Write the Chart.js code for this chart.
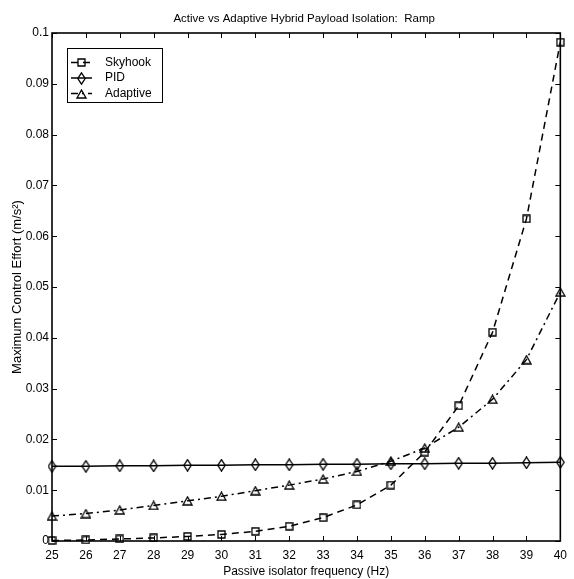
<!DOCTYPE html>
<html>
<head>
<meta charset="utf-8">
<title>Active vs Adaptive Hybrid Payload Isolation: Ramp</title>
<script src="https://cdn.jsdelivr.net/npm/chart.js@4.4.1/dist/chart.umd.min.js"></script>
<style>
  html, body { margin: 0; padding: 0; background: #fff; }
  #wrap { width: 574px; height: 579px; }
</style>
</head>
<body>
<div id="wrap"><canvas id="c" width="574" height="579"></canvas></div>
<script>
// Passive isolator frequency (Hz)
const frequencies = [25, 26, 27, 28, 29, 30, 31, 32, 33, 34, 35, 36, 37, 38, 39, 40];

// Maximum control effort (m/s^2) for each controller
const skyhookEffort  = [0.0001, 0.0002, 0.0004, 0.0006, 0.0009, 0.0013, 0.0019, 0.0029,
                        0.0046, 0.0071, 0.0110, 0.0175, 0.0266, 0.0411, 0.0634, 0.0982];
const pidEffort      = [0.0147, 0.0147, 0.0148, 0.0148, 0.0149, 0.0149, 0.0150, 0.0150,
                        0.0151, 0.0151, 0.0152, 0.0152, 0.0153, 0.0153, 0.0154, 0.0155];
const adaptiveEffort = [0.0049, 0.0054, 0.0061, 0.0070, 0.0079, 0.0088, 0.0099, 0.0110,
                        0.0122, 0.0137, 0.0157, 0.0183, 0.0224, 0.0279, 0.0357, 0.0490];

const seriesNames = ['Skyhook', 'PID', 'Adaptive'];

const chartTitle = 'Active vs Adaptive Hybrid Payload Isolation:  Ramp';
const xTitle = 'Passive isolator frequency (Hz)';
const yTitle = 'Maximum Control Effort (m/s\u00B2)';

const FONT = "'Liberation Sans', Arial, Helvetica, sans-serif";

// Open (unfilled) marker glyphs drawn once on small canvases
function makeMarker(kind) {
  let w, h;
  if (kind === 'diamond') { w = 9; h = 13; }
  else if (kind === 'triangle') { w = 11; h = 10; }
  else { w = 9; h = 9; }
  const c = document.createElement('canvas');
  c.width = w; c.height = h;
  const g = c.getContext('2d');
  g.strokeStyle = '#000';
  g.lineWidth = 1.3;
  g.beginPath();
  if (kind === 'square') {
    g.rect(1, 1, w - 2, h - 2);
  } else if (kind === 'diamond') {
    g.moveTo(w / 2, 0.8);
    g.lineTo(w - 0.8, h / 2);
    g.lineTo(w / 2, h - 0.8);
    g.lineTo(0.8, h / 2);
    g.closePath();
  } else {
    g.moveTo(w / 2, 1);
    g.lineTo(w - 1, h - 1);
    g.lineTo(1, h - 1);
    g.closePath();
  }
  g.stroke();
  return c;
}

const markers = {
  square: makeMarker('square'),
  diamond: makeMarker('diamond'),
  triangle: makeMarker('triangle')
};

const toPoints = vals => frequencies.map((f, i) => ({ x: f, y: vals[i] }));

const datasets = [
  { label: seriesNames[0], data: toPoints(skyhookEffort), borderDash: [7, 5], pointStyle: markers.square },
  { label: seriesNames[1], data: toPoints(pidEffort), borderDash: [], pointStyle: markers.diamond },
  { label: seriesNames[2], data: toPoints(adaptiveEffort), borderDash: [7, 4, 2, 4], pointStyle: markers.triangle }
].map(d => Object.assign({
  borderColor: '#000',
  backgroundColor: 'rgba(0,0,0,0)',
  borderWidth: 1.5,
  pointRadius: 4,
  tension: 0,
  fill: false,
  clip: false
}, d));

// Boxed axes with inward tick marks on all four sides, title and legend box
const framePlugin = {
  id: 'frame',
  afterDraw(chart) {
    const ctx = chart.ctx;
    const a = chart.chartArea;
    const xs = chart.scales.x, ys = chart.scales.y;
    const tl = 5;
    ctx.save();
    ctx.strokeStyle = '#000';
    ctx.lineWidth = 1;
    ctx.setLineDash([]);
    ctx.beginPath();
    xs.ticks.forEach(t => {
      const px = Math.round(xs.getPixelForValue(t.value)) + 0.5;
      ctx.moveTo(px, a.bottom); ctx.lineTo(px, a.bottom - tl);
      ctx.moveTo(px, a.top); ctx.lineTo(px, a.top + tl);
    });
    ys.ticks.forEach(t => {
      const py = Math.round(ys.getPixelForValue(t.value)) + 0.5;
      ctx.moveTo(a.left, py); ctx.lineTo(a.left + tl, py);
      ctx.moveTo(a.right, py); ctx.lineTo(a.right - tl, py);
    });
    ctx.stroke();
    ctx.lineWidth = 1.6;
    ctx.strokeRect(a.left, a.top, a.right - a.left, a.bottom - a.top);

    // title
    ctx.fillStyle = '#000';
    ctx.font = '11.5px ' + FONT;
    ctx.textAlign = 'center';
    ctx.textBaseline = 'middle';
    ctx.fillText(chartTitle, (a.left + a.right) / 2 - 2, 19);

    // legend
    const bx = 67, by = 48, bw = 95, bh = 54, rowH = 15.5;
    ctx.fillStyle = '#fff';
    ctx.fillRect(bx, by, bw, bh);
    ctx.lineWidth = 1;
    ctx.strokeRect(bx + 0.5, by + 0.5, bw, bh);
    chart.data.datasets.forEach((ds, i) => {
      const y = by + 14.5 + i * rowH;
      ctx.strokeStyle = '#000';
      ctx.lineWidth = 1.5;
      ctx.setLineDash(ds.borderDash);
      ctx.beginPath();
      ctx.moveTo(bx + 4, y);
      ctx.lineTo(bx + 25, y);
      ctx.stroke();
      ctx.setLineDash([]);
      const m = ds.pointStyle;
      ctx.drawImage(m, Math.round(bx + 14.5 - m.width / 2), Math.round(y - m.height / 2));
      ctx.fillStyle = '#000';
      ctx.font = '12px ' + FONT;
      ctx.textAlign = 'left';
      ctx.textBaseline = 'middle';
      ctx.fillText(ds.label, bx + 38, y);
    });
    ctx.restore();
  }
};

new Chart(document.getElementById('c'), {
  type: 'line',
  data: { datasets },
  options: {
    responsive: false,
    animation: false,
    devicePixelRatio: 1,
    events: [],
    layout: { padding: { top: 33, right: 8, left: 0, bottom: 0 } },
    plugins: { legend: { display: false }, tooltip: { enabled: false }, title: { display: false } },
    scales: {
      x: {
        type: 'linear',
        min: 25, max: 40,
        grid: { display: false, drawTicks: false },
        border: { display: false },
        ticks: {
          stepSize: 1, autoSkip: false, maxRotation: 0, padding: 7,
          color: '#000', font: { family: FONT, size: 12 }
        },
        title: {
          display: true, text: xTitle, color: '#000',
          font: { family: FONT, size: 12 }, padding: { top: 0, bottom: 0 }
        },
        afterFit: s => { s.height = 38; }
      },
      y: {
        type: 'linear',
        min: 0, max: 0.1,
        grid: { display: false, drawTicks: false },
        border: { display: false },
        ticks: {
          stepSize: 0.01, autoSkip: false, padding: 3,
          color: '#000', font: { family: FONT, size: 12 },
          callback: v => { const r = Math.round(v * 100) / 100; return r === 0 ? '0' : String(r); }
        },
        title: {
          display: true, text: yTitle, color: '#000',
          font: { family: FONT, size: 13 }, padding: { top: 10, bottom: 0 }
        },
        afterFit: s => { s.width = 52; }
      }
    }
  },
  plugins: [framePlugin]
});
</script>
</body>
</html>
